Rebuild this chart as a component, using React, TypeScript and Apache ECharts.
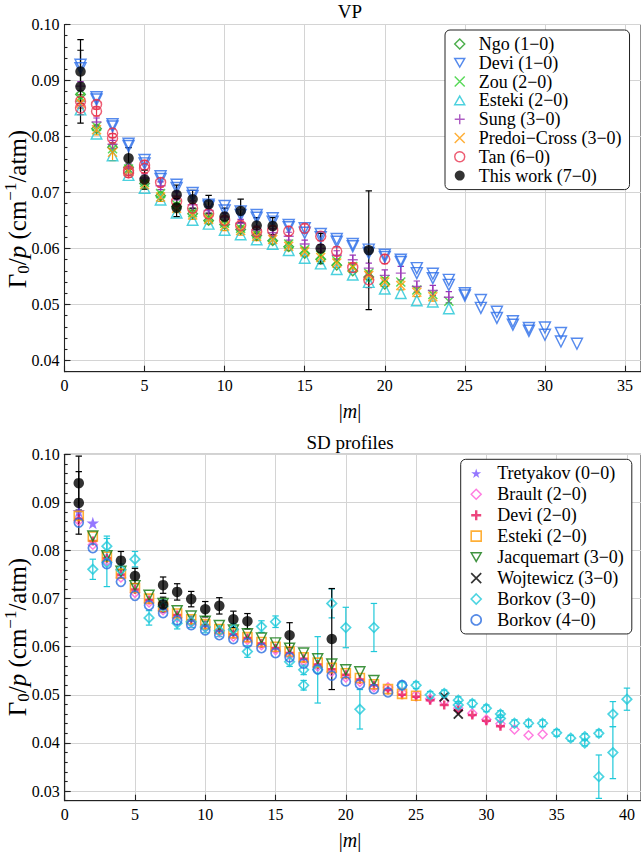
import React, { useEffect, useRef } from 'react';
import * as echarts from 'echarts';

// ---------------- Top panel: VP ----------------
const ngoM = [1, 2, 3, 4, 5, 6, 7, 8, 9, 10, 11, 12, 13, 14, 15, 16, 17, 18, 19, 20];
const ngoG = [0.0875, 0.0814, 0.0781, 0.0745, 0.0716, 0.0694, 0.0675, 0.0662, 0.0650, 0.0643, 0.0634, 0.0623, 0.0614, 0.0603, 0.0591, 0.0581, 0.0570, 0.0560, 0.0549, 0.0536];

const devi1M = [1, 1, 2, 2, 3, 3, 4, 4, 5, 5, 6, 6, 7, 7, 8, 8, 9, 9, 10, 10, 11, 11, 12, 12, 13, 13, 14, 14, 15, 15, 16, 16, 17, 17, 18, 18, 19, 19, 20, 20, 21, 21, 22, 22, 23, 23, 24, 24, 25, 25, 26, 26, 27, 27, 28, 28, 29, 29, 30, 30, 31, 31, 32];
const devi1G = [0.0928, 0.0922, 0.0870, 0.0866, 0.0822, 0.0818, 0.0787, 0.0783, 0.0758, 0.0752, 0.0729, 0.0724, 0.0714, 0.0708, 0.0699, 0.0694, 0.0678, 0.0675, 0.0676, 0.0668, 0.0666, 0.0660, 0.0660, 0.0655, 0.0654, 0.0648, 0.0642, 0.0638, 0.0636, 0.0628, 0.0626, 0.0620, 0.0617, 0.0612, 0.0608, 0.0604, 0.0598, 0.0592, 0.0589, 0.0585, 0.0580, 0.0576, 0.0565, 0.0556, 0.0555, 0.0547, 0.0544, 0.0535, 0.0520, 0.0516, 0.0508, 0.0494, 0.0487, 0.0476, 0.0470, 0.0464, 0.0458, 0.0453, 0.0459, 0.0446, 0.0449, 0.0434, 0.0430];

const zouM = [1, 2, 3, 4, 5, 6, 7, 8, 9, 10, 11, 12, 13, 14, 15, 16, 17, 18, 19, 20, 21, 22, 23, 24];
const zouG = [0.0870, 0.0818, 0.0778, 0.0742, 0.0718, 0.0698, 0.0678, 0.0664, 0.0655, 0.0645, 0.0636, 0.0626, 0.0620, 0.0608, 0.0598, 0.0588, 0.0578, 0.0568, 0.0556, 0.0544, 0.0540, 0.0526, 0.0518, 0.0506];

const esteki1M = [1, 2, 3, 4, 5, 6, 7, 8, 9, 10, 11, 12, 13, 14, 15, 16, 17, 18, 19, 20, 21, 22, 23, 24];
const esteki1G = [0.0848, 0.0805, 0.0766, 0.0731, 0.0708, 0.0687, 0.0664, 0.0651, 0.0644, 0.0633, 0.0625, 0.0616, 0.0608, 0.0597, 0.0583, 0.0573, 0.0563, 0.0553, 0.0540, 0.0528, 0.0520, 0.0507, 0.0505, 0.0493];

const sungM = [1, 2, 3, 4, 5, 6, 7, 8, 9, 10, 11, 12, 13, 14, 15, 16, 17, 18, 19, 20, 21, 22, 23, 24];
const sungG = [0.0890, 0.0826, 0.0786, 0.0744, 0.0726, 0.0712, 0.0694, 0.0678, 0.0668, 0.0656, 0.0645, 0.0633, 0.0628, 0.0622, 0.0608, 0.0600, 0.0588, 0.0580, 0.0565, 0.0552, 0.0556, 0.0532, 0.0525, 0.0513];
const sungE = [0.0008, 0.0007, 0.0007, 0.0007, 0.0007, 0.0007, 0.0007, 0.0007, 0.0007, 0.0007, 0.0007, 0.0007, 0.0007, 0.0007, 0.0007, 0.0007, 0.0008, 0.0008, 0.0009, 0.0010, 0.0012, 0.0010, 0.0009, 0.0010];

const predoiM = [1, 2, 3, 4, 5, 6, 7, 8, 9, 10, 11, 12, 13, 14, 15, 16, 17, 18, 19, 20, 21, 22, 23];
const predoiG = [0.0860, 0.0812, 0.0772, 0.0738, 0.0714, 0.0692, 0.0672, 0.0660, 0.0652, 0.0640, 0.0632, 0.0622, 0.0616, 0.0604, 0.0594, 0.0584, 0.0574, 0.0566, 0.0552, 0.0540, 0.0534, 0.0522, 0.0514];
const predoiE = [0.0010, 0.0009, 0.0015, 0.0008, 0.0008, 0.0008, 0.0008, 0.0008, 0.0008, 0.0008, 0.0008, 0.0008, 0.0008, 0.0008, 0.0008, 0.0008, 0.0008, 0.0008, 0.0008, 0.0008, 0.0008, 0.0008, 0.0008];

const tanM = [1, 1, 2, 2, 3, 3, 4, 4, 5, 5, 6, 7, 8, 9, 10, 11, 12, 13, 14, 15, 16, 17, 18, 19, 20];
const tanG = [0.0863, 0.0851, 0.0857, 0.0845, 0.0806, 0.0797, 0.0739, 0.0735, 0.0749, 0.0743, 0.0718, 0.0684, 0.0672, 0.0662, 0.0650, 0.0641, 0.0630, 0.0632, 0.0631, 0.0636, 0.0622, 0.0595, 0.0566, 0.0544, 0.0581];
const tanE = [0.0012, 0.0012, 0.0008, 0.0008, 0.0008, 0.0008, 0.0008, 0.0008, 0.0008, 0.0008, 0.0008, 0.0008, 0.0008, 0.0008, 0.0008, 0.0008, 0.0008, 0.0008, 0.0008, 0.0008, 0.0008, 0.0008, 0.0008, 0.0014, 0.0008];

const twTopM = [1, 1, 4, 5, 7, 7, 8, 9, 10, 11, 12, 13, 16, 19];
const twTopG = [0.0916, 0.0889, 0.0761, 0.0723, 0.0696, 0.0673, 0.0688, 0.0679, 0.0657, 0.0667, 0.0641, 0.0640, 0.0600, 0.0597];
const twTopE = [0.0057, 0.0065, 0.0019, 0.0017, 0.0017, 0.0016, 0.0016, 0.0016, 0.0015, 0.0021, 0.0014, 0.0015, 0.0027, 0.0106];

// ---------------- Bottom panel: SD profiles ----------------
const tretM = [1, 2];
const tretG = [0.0881, 0.0857];

const braultM = [1, 2, 3, 4, 5, 6, 7, 8, 9, 10, 11, 12, 13, 14, 15, 16, 17, 18, 19, 20, 21, 22, 23, 24, 25, 26, 27, 28, 29, 30, 31, 32, 33, 34];
const braultG = [0.0862, 0.0812, 0.0778, 0.0744, 0.0712, 0.0692, 0.0676, 0.0661, 0.0650, 0.0640, 0.0630, 0.0621, 0.0614, 0.0603, 0.0593, 0.0583, 0.0570, 0.0559, 0.0548, 0.0536, 0.0527, 0.0516, 0.0516, 0.0505, 0.0500, 0.0492, 0.0486, 0.0472, 0.0462, 0.0449, 0.0440, 0.0428, 0.0416, 0.0418];

const devi2M = [1, 2, 3, 4, 5, 6, 7, 8, 9, 10, 11, 12, 13, 14, 15, 16, 17, 18, 19, 20, 21, 22, 23, 24, 25, 26, 27, 28, 29, 30, 31];
const devi2G = [0.0866, 0.0820, 0.0784, 0.0750, 0.0719, 0.0697, 0.0680, 0.0666, 0.0655, 0.0645, 0.0634, 0.0626, 0.0618, 0.0607, 0.0597, 0.0587, 0.0575, 0.0563, 0.0553, 0.0542, 0.0532, 0.0520, 0.0510, 0.0500, 0.0496, 0.0489, 0.0479, 0.0468, 0.0458, 0.0446, 0.0435];

const esteki2M = [1, 2, 3, 4, 5, 6, 7, 8, 9, 10, 11, 12, 13, 14, 15, 16, 17, 18, 19, 20, 21, 22, 23, 24, 25];
const esteki2G = [0.0872, 0.0829, 0.0787, 0.0752, 0.0722, 0.0700, 0.0683, 0.0669, 0.0657, 0.0647, 0.0637, 0.0628, 0.0620, 0.0610, 0.0600, 0.0590, 0.0578, 0.0567, 0.0556, 0.0545, 0.0535, 0.0522, 0.0512, 0.0502, 0.0498];

const jacqM = [2, 3, 4, 5, 6, 7, 8, 9, 10, 11, 12, 13, 14, 15, 16, 17, 18, 19, 20, 21, 22];
const jacqG = [0.0830, 0.0789, 0.0757, 0.0727, 0.0707, 0.0690, 0.0675, 0.0664, 0.0653, 0.0644, 0.0635, 0.0627, 0.0618, 0.0608, 0.0597, 0.0587, 0.0575, 0.0564, 0.0552, 0.0548, 0.0530];

const wojM = [27, 28];
const wojG = [0.0496, 0.0460];

const bork3M = [2, 3, 3, 4, 5, 6, 7, 8, 9, 10, 11, 12, 13, 14, 15, 16, 17, 17, 18, 19, 20, 21, 22, 24, 25, 26, 27, 28, 28, 29, 30, 31, 31, 32, 33, 34, 35, 36, 37, 37, 38, 38, 39, 39, 40];
const bork3G = [0.0761, 0.0809, 0.0775, 0.0760, 0.0782, 0.0660, 0.0684, 0.0649, 0.0652, 0.0641, 0.0633, 0.0636, 0.0590, 0.0642, 0.0652, 0.0569, 0.0552, 0.0520, 0.0552, 0.0690, 0.0640, 0.0470, 0.0640, 0.0520, 0.0520, 0.0500, 0.0503, 0.0489, 0.0479, 0.0482, 0.0472, 0.0460, 0.0451, 0.0441, 0.0441, 0.0441, 0.0421, 0.0410, 0.0413, 0.0400, 0.0420, 0.0330, 0.0460, 0.0380, 0.0491];
const bork3E = [0.0021, 0.0021, 0.0050, 0.0012, 0.0016, 0.0015, 0.0013, 0.0012, 0.0012, 0.0012, 0.0012, 0.0012, 0.0012, 0.0012, 0.0012, 0.0010, 0.0010, 0.0010, 0.0069, 0.0030, 0.0042, 0.0041, 0.0050, 0.0007, 0.0007, 0.0007, 0.0007, 0.0007, 0.0007, 0.0007, 0.0007, 0.0007, 0.0007, 0.0007, 0.0007, 0.0007, 0.0007, 0.0006, 0.0006, 0.0006, 0.0007, 0.0045, 0.0026, 0.0054, 0.0023];

const bork4M = [1, 2, 3, 4, 5, 6, 7, 8, 9, 10, 11, 12, 13, 14, 15, 16, 17, 18, 19, 20, 21, 22, 23, 24];
const bork4G = [0.0858, 0.0805, 0.0772, 0.0735, 0.0706, 0.0686, 0.0670, 0.0655, 0.0645, 0.0634, 0.0624, 0.0616, 0.0608, 0.0597, 0.0587, 0.0578, 0.0565, 0.0553, 0.0540, 0.0528, 0.0522, 0.0512, 0.0505, 0.0520];

const twBotM = [1, 1, 4, 5, 7, 7, 8, 9, 10, 11, 12, 13, 16, 19];
const twBotG = [0.0940, 0.0899, 0.0779, 0.0747, 0.0728, 0.0688, 0.0714, 0.0699, 0.0678, 0.0685, 0.0657, 0.0653, 0.0624, 0.0616];
const twBotE = [0.0056, 0.0065, 0.0019, 0.0016, 0.0017, 0.0015, 0.0017, 0.0016, 0.0016, 0.0017, 0.0017, 0.0016, 0.0026, 0.0105];

// tick labels
const xTicksTop = [0, 5, 10, 15, 20, 25, 30, 35];
const xTicksBot = [0, 5, 10, 15, 20, 25, 30, 35, 40];
const yTicksTop = [0.04, 0.05, 0.06, 0.07, 0.08, 0.09, 0.10];
const yTicksBot = [0.03, 0.04, 0.05, 0.06, 0.07, 0.08, 0.09, 0.10];

const FONT = 'Liberation Serif';
const M = '\u2212';
const TXT = '#000000';

const C = {
  ngo: '#1e9a1e', devi1: '#2a6de8', zou: '#2fcf2f', esteki1: '#1fc5d6', sung: '#9a35b5',
  predoi: '#ff9b05', tan: '#e83550', tw: '#000000',
  tret: '#7a55ff', brault: '#ff5ad8', devi2: '#e8175d', esteki2: '#ff9b05', jacq: '#107810',
  woj: '#000000', bork3: '#20c9da', bork4: '#2a6de0',
};

const CROSS = 'path://M0,0L10,10M10,0L0,10';
const PLUS = 'path://M5,0L5,10M0,5L10,5';
const DOWN = 'path://M0,0L10,0L5,8.66Z';
const UP = 'path://M5,0L10,8.66L0,8.66Z';
const STAR = 'path://M50,0L61.8,36.2L100,36.2L69.1,58.8L80.9,95.1L50,72.7L19.1,95.1L30.9,58.8L0,36.2L38.2,36.2Z';

const open = (c: string, w = 1.45) => ({ color: 'transparent', borderColor: c, borderWidth: w });

function pts(ms: number[], gs: number[]) {
  return ms.map((m, i) => [m, gs[i]]);
}
function pts3(ms: number[], gs: number[], es: number[]) {
  return ms.map((m, i) => [m, gs[i], es[i]]);
}

function scatter(name: string, gi: number, ms: number[], gs: number[], symbol: string, size: number, itemStyle: any) {
  return {
    type: 'scatter', name, xAxisIndex: gi, yAxisIndex: gi * 2,
    data: pts(ms, gs), symbol, symbolSize: size, itemStyle, silent: true, z: 3,
  };
}

function errBars(name: string, gi: number, ms: number[], gs: number[], es: number[], color: string, lw = 1.2) {
  return {
    type: 'custom', name, xAxisIndex: gi, yAxisIndex: gi * 2, silent: true, z: 3, clip: true,
    data: pts3(ms, gs, es),
    encode: { x: 0, y: 1 },
    renderItem: (params: any, api: any) => {
      const x = api.value(0), y = api.value(1), e = api.value(2);
      const t = api.coord([x, y + e]);
      const b = api.coord([x, y - e]);
      const cw = 3.2;
      const st = { stroke: color, lineWidth: lw };
      return {
        type: 'group',
        children: [
          { type: 'line', shape: { x1: t[0], y1: t[1], x2: b[0], y2: b[1] }, style: st },
          { type: 'line', shape: { x1: t[0] - cw, y1: t[1], x2: t[0] + cw, y2: t[1] }, style: st },
          { type: 'line', shape: { x1: b[0] - cw, y1: b[1], x2: b[0] + cw, y2: b[1] }, style: st },
        ],
      };
    },
  };
}

const axisLineStyle = { color: '#222', width: 1.1 };
const gridLineStyle = { color: '#d4d4d4', width: 1 };

function xAxis(gi: number, max: number, ticks: number[]) {
  return {
    type: 'value', gridIndex: gi, min: 0, max, interval: 5, position: 'bottom',
    axisLine: { show: true, onZero: false, lineStyle: axisLineStyle },
    axisTick: { show: true, inside: true, length: 6, customValues: ticks, lineStyle: axisLineStyle },
    axisLabel: { customValues: ticks, fontFamily: FONT, fontSize: 16, color: TXT, margin: 6 },
    splitLine: { show: true, lineStyle: gridLineStyle },
  };
}
function yAxisMain(gi: number, min: number, ticks: number[]) {
  return {
    type: 'value', gridIndex: gi, min, max: 0.1, position: 'left',
    axisLine: { show: true, onZero: false, lineStyle: axisLineStyle },
    axisTick: { show: true, inside: true, length: 6, customValues: ticks, lineStyle: axisLineStyle },
    axisLabel: {
      customValues: ticks, fontFamily: FONT, fontSize: 16, color: TXT, margin: 5,
      formatter: (v: number) => v.toFixed(2),
    },
    splitLine: { show: true, lineStyle: gridLineStyle },
  };
}
function yAxisMinor(gi: number, min: number) {
  return {
    type: 'value', gridIndex: gi, min, max: 0.1, interval: 0.002, position: 'left', offset: 0,
    axisLine: { show: false },
    axisTick: { show: true, inside: true, length: 3, lineStyle: axisLineStyle },
    axisLabel: { show: false },
    splitLine: { show: false },
  };
}

const legendText = { fontFamily: FONT, fontSize: 18, color: TXT, lineHeight: 18, padding: [0, 0, 0, 9] };

export default function App() {
  const ref = useRef<HTMLDivElement>(null);
  useEffect(() => {
    if (!ref.current) return;
    const chart = echarts.init(ref.current, null, { renderer: 'svg' });
    const yRich = {
      a: { fontFamily: FONT, fontSize: 25, lineHeight: 30, color: TXT },
      i: { fontFamily: FONT, fontSize: 25, lineHeight: 30, fontStyle: 'italic', color: TXT },
      s: { fontFamily: FONT, fontSize: 17, lineHeight: 17, verticalAlign: 'bottom', color: TXT },
      u: { fontFamily: FONT, fontSize: 17, lineHeight: 17, verticalAlign: 'top', color: TXT },
    };
    const yText = `{a|\u0393}{s|0}{a|/}{i|p}{a| (cm}{u|${M}1}{a|/atm)}`;
    const xRich = {
      a: { fontFamily: FONT, fontSize: 20, color: TXT },
      i: { fontFamily: FONT, fontSize: 20, fontStyle: 'italic', color: TXT },
    };
    const option: any = {
      animation: false,
      backgroundColor: '#ffffff',
      textStyle: { fontFamily: FONT },
      grid: [
        { left: 64.5, top: 24.5, width: 586.8, height: 347.2, show: true, borderColor: '#222', borderWidth: 1, backgroundColor: 'transparent' },
        { left: 64.7, top: 454.3, width: 585, height: 346.4, show: true, borderColor: '#222', borderWidth: 1, backgroundColor: 'transparent' },
      ],
      xAxis: [xAxis(0, 36, xTicksTop), xAxis(1, 41, xTicksBot)],
      yAxis: [yAxisMain(0, 0.038, yTicksTop), yAxisMinor(0, 0.038), yAxisMain(1, 0.028, yTicksBot), yAxisMinor(1, 0.028)],
      legend: [
        {
          orient: 'vertical', left: 445, top: 30, padding: [5, 8, 5, 9], itemGap: 0.8,
          itemWidth: 10, itemHeight: 10, selectedMode: false,
          backgroundColor: '#ffffff', borderColor: '#222', borderWidth: 1, borderRadius: 5,
          textStyle: legendText,
          data: [
            { name: `Ngo (1${M}0)`, icon: 'diamond', itemStyle: open(C.ngo) },
            { name: `Devi (1${M}0)`, icon: DOWN, itemStyle: open(C.devi1) },
            { name: `Zou (2${M}0)`, icon: CROSS, itemStyle: open(C.zou) },
            { name: `Esteki (2${M}0)`, icon: UP, itemStyle: open(C.esteki1) },
            { name: `Sung (3${M}0)`, icon: PLUS, itemStyle: open(C.sung) },
            { name: `Predoi${M}Cross (3${M}0)`, icon: CROSS, itemStyle: open(C.predoi) },
            { name: `Tan (6${M}0)`, icon: 'circle', itemStyle: open(C.tan) },
            { name: `This work (7${M}0)`, icon: 'circle', itemStyle: { color: '#000', borderColor: '#000', borderWidth: 0 } },
          ],
        },
        {
          orient: 'vertical', left: 460.7, top: 459.3, padding: [5, 8, 5, 9.3], itemGap: 2.95,
          itemWidth: 10, itemHeight: 10, selectedMode: false,
          backgroundColor: '#ffffff', borderColor: '#222', borderWidth: 1, borderRadius: 5,
          textStyle: { ...legendText, padding: [0, 0, 0, 11] },
          data: [
            { name: `Tretyakov (0${M}0)`, icon: STAR, itemStyle: { color: C.tret, borderWidth: 0 } },
            { name: `Brault (2${M}0)`, icon: 'diamond', itemStyle: open(C.brault) },
            { name: `Devi (2${M}0)`, icon: PLUS, itemStyle: open(C.devi2, 2.4) },
            { name: `Esteki (2${M}0) `, icon: 'rect', itemStyle: open(C.esteki2, 1.6) },
            { name: `Jacquemart (3${M}0)`, icon: DOWN, itemStyle: open(C.jacq) },
            { name: `Wojtewicz (3${M}0)`, icon: CROSS, itemStyle: open(C.woj, 1.7) },
            { name: `Borkov (3${M}0)`, icon: 'diamond', itemStyle: open(C.bork3, 1.6) },
            { name: `Borkov (4${M}0)`, icon: 'circle', itemStyle: open(C.bork4, 1.7) },
          ],
        },
      ],
      series: [
        // top panel
        scatter(`Ngo (1${M}0)`, 0, ngoM, ngoG, 'diamond', 9.5, open(C.ngo)),
        scatter(`Devi (1${M}0)`, 0, devi1M, devi1G, DOWN, 11, open(C.devi1)),
        scatter(`Zou (2${M}0)`, 0, zouM, zouG, CROSS, 9, open(C.zou)),
        scatter(`Esteki (2${M}0)`, 0, esteki1M, esteki1G, UP, 10.5, open(C.esteki1)),
        errBars('sung-err', 0, sungM, sungG, sungE, C.sung),
        scatter(`Sung (3${M}0)`, 0, sungM, sungG, PLUS, 10, open(C.sung)),
        errBars('predoi-err', 0, predoiM, predoiG, predoiE, C.predoi),
        scatter(`Predoi${M}Cross (3${M}0)`, 0, predoiM, predoiG, CROSS, 9, open(C.predoi)),
        errBars('tan-err', 0, tanM, tanG, tanE, C.tan),
        scatter(`Tan (6${M}0)`, 0, tanM, tanG, 'circle', 10, open(C.tan)),
        errBars('tw-top-err', 0, twTopM, twTopG, twTopE, '#000'),
        scatter(`This work (7${M}0)`, 0, twTopM, twTopG, 'circle', 10.5, { color: '#000' }),
        // bottom panel
        scatter(`Tretyakov (0${M}0)`, 1, tretM, tretG, STAR, 12.5, { color: C.tret }),
        scatter(`Brault (2${M}0)`, 1, braultM, braultG, 'diamond', 9, open(C.brault)),
        scatter(`Devi (2${M}0)`, 1, devi2M, devi2G, PLUS, 9, open(C.devi2, 2.5)),
        scatter(`Esteki (2${M}0) `, 1, esteki2M, esteki2G, 'rect', 9, open(C.esteki2, 1.6)),
        scatter(`Jacquemart (3${M}0)`, 1, jacqM, jacqG, DOWN, 10, open(C.jacq)),
        scatter(`Wojtewicz (3${M}0)`, 1, wojM, wojG, CROSS, 9, open(C.woj, 1.9)),
        errBars('bork3-err', 1, bork3M, bork3G, bork3E, C.bork3),
        scatter(`Borkov (3${M}0)`, 1, bork3M, bork3G, 'diamond', 9.5, open(C.bork3, 1.7)),
        scatter(`Borkov (4${M}0)`, 1, bork4M, bork4G, 'circle', 9, open(C.bork4, 1.7)),
        errBars('tw-bot-err', 1, twBotM, twBotG, twBotE, '#000'),
        scatter('This work SD', 1, twBotM, twBotG, 'circle', 10.5, { color: '#000' }),
      ],
      graphic: [
        { type: 'text', x: 350, y: 11, style: { text: 'VP', fontFamily: FONT, fontSize: 19, fill: TXT, align: 'center', verticalAlign: 'middle' } },
        { type: 'text', x: 350, y: 442, style: { text: 'SD profiles', fontFamily: FONT, fontSize: 19, fill: TXT, align: 'center', verticalAlign: 'middle' } },
        { type: 'text', x: 350, y: 411, style: { text: '{a||}{i|m}{a||}', rich: xRich, align: 'center', verticalAlign: 'middle' } },
        { type: 'text', x: 350, y: 840, style: { text: '{a||}{i|m}{a||}', rich: xRich, align: 'center', verticalAlign: 'middle' } },
        { type: 'text', x: 17, y: 209, rotation: Math.PI / 2, style: { text: yText, rich: yRich, align: 'center', verticalAlign: 'middle' } },
        { type: 'text', x: 17, y: 637, rotation: Math.PI / 2, style: { text: yText, rich: yRich, align: 'center', verticalAlign: 'middle' } },
      ],
    };
    chart.setOption(option);
    return () => chart.dispose();
  }, []);
  return <div ref={ref} style={{ position: 'absolute', left: 0, top: 0, width: 641, height: 855 }} />;
}
